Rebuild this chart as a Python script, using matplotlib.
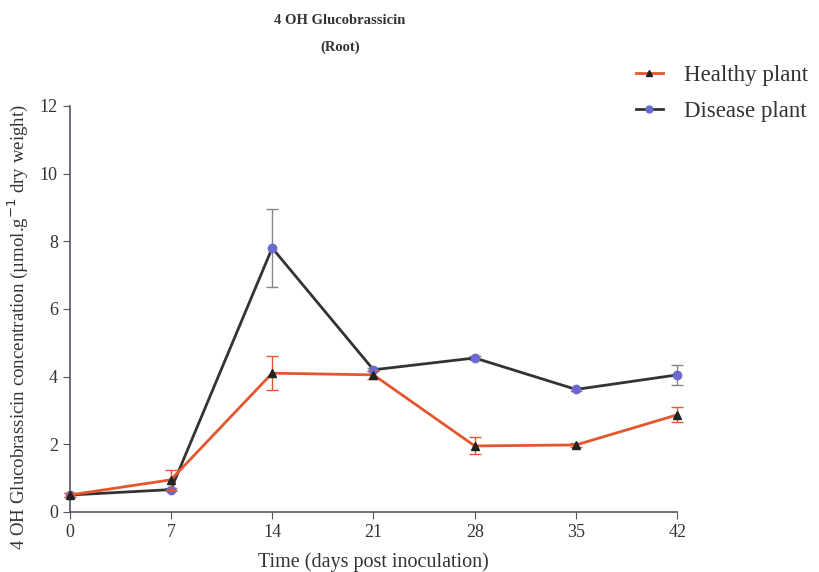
import matplotlib.pyplot as plt
from matplotlib.lines import Line2D

days = [0, 7, 14, 21, 28, 35, 42]
healthy = [0.5, 0.95, 4.1, 4.05, 1.95, 1.98, 2.87]
healthy_err = [0.05, 0.3, 0.5, 0.12, 0.25, 0.05, 0.22]
disease = [0.5, 0.66, 7.8, 4.2, 4.55, 3.62, 4.05]
disease_err = [0.05, 0.05, 1.15, 0.05, 0.05, 0.05, 0.3]

plt.rcParams['font.family'] = ['Liberation Serif', 'DejaVu Serif']

fig = plt.figure(figsize=(8.19, 5.72), dpi=100)
ax = fig.add_axes([0.085, 0.105, 0.742, 0.71])

h_col = '#e4572e'
d_col = '#333333'
ax.errorbar(days, healthy, yerr=healthy_err, color=h_col, lw=2,
            marker='^', ms=6, mfc='#222222', mec='#222222',
            ecolor=h_col, elinewidth=1, capsize=4, clip_on=False, zorder=3)
ax.errorbar(days, disease, yerr=disease_err, color=d_col, lw=2,
            marker='o', ms=6, mfc='#6a6ad0', mec='#6a6ad0',
            ecolor='#888888', elinewidth=1, capsize=4, clip_on=False, zorder=2)

ax.set_xlim(0, 42)
ax.set_ylim(0, 12)
ax.set_xticks(days)
ax.set_yticks(range(0, 13, 2))
for s in ['top', 'right']:
    ax.spines[s].set_visible(False)
for s in ['left', 'bottom']:
    ax.spines[s].set_color('#555566')
    ax.spines[s].set_linewidth(1.2)
ax.tick_params(direction='out', length=5, color='#555566', labelsize=13,
               labelcolor='#333333')

ax.set_xlabel('Time (days post inoculation)', fontsize=14.5, color='#333333', labelpad=8)
ax.set_ylabel('4 OH Glucobrassicin concentration (µmol.g$^{-1}$ dry weight)',
              fontsize=13.6, color='#333333')
ax.yaxis.set_label_coords(-0.066, 0.455)

fig.text(0.415, 0.965, '4 OH Glucobrassicin', ha='center', va='center',
         fontsize=10.5, fontweight='bold', color='#333333')
fig.text(0.415, 0.918, '(Root)', ha='center', va='center',
         fontsize=10.5, fontweight='bold', color='#333333')

handles = [Line2D([], [], color=h_col, lw=2, marker='^', ms=5, mfc='#222222', mec='#222222'),
           Line2D([], [], color=d_col, lw=2, marker='o', ms=5, mfc='#6a6ad0', mec='#6a6ad0')]
fig.legend(handles, ['Healthy plant', 'Disease plant'], loc='upper left',
           bbox_to_anchor=(0.776, 0.887), borderaxespad=0, borderpad=0,
           frameon=False, fontsize=16.5, handlelength=1.2, handletextpad=0.9,
           labelspacing=0.65, labelcolor='#333333')

fig.savefig('out.png', dpi=100)
